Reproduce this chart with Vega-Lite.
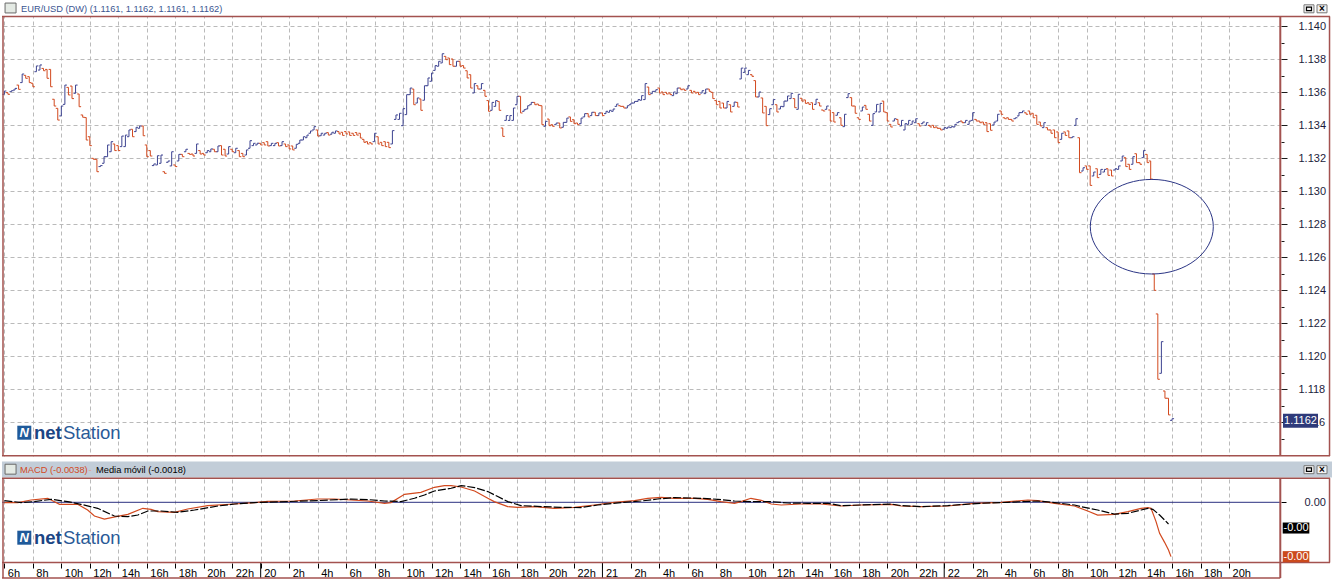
{
"$schema":"https://vega.github.io/schema/vega-lite/v6.json",
"background":"white",
"padding":{"left":1,"top":0,"right":0,"bottom":0},
"spacing":2,
"bounds":"flush",
"config":{"view":{"stroke":null},"font":"Liberation Sans","axis":{"titleOpacity":0,"labelOverlap":false}},
"datasets":{
"bars":[{"i":0,"o":1.13586,"c":1.13606},{"i":1,"o":1.13596,"c":1.13586},{"i":2,"o":1.13602,"c":1.13608},{"i":3,"o":1.13612,"c":1.13622},{"i":4,"o":1.13642,"c":1.13616},{"i":5,"o":1.13657,"c":1.13709},{"i":6,"o":1.13701,"c":1.13683},{"i":7,"o":1.13693,"c":1.13657},{"i":8,"o":1.13653,"c":1.13632},{"i":9,"o":1.13723,"c":1.13758},{"i":10,"o":1.13733,"c":1.13764},{"i":11,"o":1.13743,"c":1.13729},{"i":12,"o":1.13737,"c":1.13683},{"i":13,"o":1.13737,"c":1.13632},{"i":14,"o":1.13556,"c":1.13515},{"i":15,"o":1.13501,"c":1.1343},{"i":16,"o":1.13455,"c":1.13515},{"i":17,"o":1.13525,"c":1.13642},{"i":18,"o":1.13628,"c":1.13582},{"i":19,"o":1.13636,"c":1.1356},{"i":20,"o":1.13592,"c":1.13642},{"i":21,"o":1.13588,"c":1.13511},{"i":22,"o":1.13461,"c":1.13447},{"i":23,"o":1.13445,"c":1.13309},{"i":24,"o":1.13329,"c":1.13275},{"i":25,"o":1.13198,"c":1.13192},{"i":26,"o":1.13192,"c":1.13117},{"i":27,"o":1.13148,"c":1.13154},{"i":28,"o":1.13168,"c":1.13208},{"i":29,"o":1.13208,"c":1.13279},{"i":30,"o":1.13238,"c":1.13299},{"i":31,"o":1.13285,"c":1.13245},{"i":32,"o":1.13275,"c":1.13245},{"i":33,"o":1.13269,"c":1.13333},{"i":34,"o":1.13269,"c":1.13339},{"i":35,"o":1.13329,"c":1.1337},{"i":36,"o":1.13374,"c":1.13329},{"i":37,"o":1.1336,"c":1.13386},{"i":38,"o":1.1338,"c":1.13394},{"i":39,"o":1.13394,"c":1.13335},{"i":40,"o":1.13279,"c":1.13208},{"i":41,"o":1.13245,"c":1.13212},{"i":42,"o":1.13154,"c":1.13164},{"i":43,"o":1.13158,"c":1.13214},{"i":44,"o":1.13168,"c":1.13218},{"i":45,"o":1.13117,"c":1.13107},{"i":46,"o":1.13174,"c":1.13182},{"i":47,"o":1.13152,"c":1.13238},{"i":48,"o":1.13158,"c":1.13148},{"i":49,"o":1.13182,"c":1.13222},{"i":50,"o":1.13222,"c":1.13208},{"i":51,"o":1.13238,"c":1.13253},{"i":52,"o":1.13228,"c":1.13222},{"i":53,"o":1.13224,"c":1.13212},{"i":54,"o":1.13228,"c":1.13285},{"i":55,"o":1.13245,"c":1.13224},{"i":56,"o":1.13228,"c":1.13218},{"i":57,"o":1.13232,"c":1.13245},{"i":58,"o":1.13238,"c":1.13255},{"i":59,"o":1.13253,"c":1.13238},{"i":60,"o":1.13238,"c":1.13273},{"i":61,"o":1.13275,"c":1.13218},{"i":62,"o":1.13253,"c":1.13212},{"i":63,"o":1.13224,"c":1.13269},{"i":64,"o":1.13253,"c":1.13238},{"i":65,"o":1.13232,"c":1.13259},{"i":66,"o":1.13245,"c":1.13208},{"i":67,"o":1.13228,"c":1.13208},{"i":68,"o":1.13218,"c":1.13249},{"i":69,"o":1.13259,"c":1.13305},{"i":70,"o":1.13275,"c":1.13289},{"i":71,"o":1.13279,"c":1.13289},{"i":72,"o":1.13289,"c":1.13279},{"i":73,"o":1.13293,"c":1.13279},{"i":74,"o":1.13299,"c":1.13273},{"i":75,"o":1.13275,"c":1.13289},{"i":76,"o":1.13275,"c":1.13289},{"i":77,"o":1.13293,"c":1.13273},{"i":78,"o":1.13275,"c":1.13299},{"i":79,"o":1.13285,"c":1.13269},{"i":80,"o":1.13279,"c":1.13255},{"i":81,"o":1.13273,"c":1.13249},{"i":82,"o":1.13259,"c":1.13283},{"i":83,"o":1.13289,"c":1.13309},{"i":84,"o":1.13309,"c":1.13329},{"i":85,"o":1.13323,"c":1.13339},{"i":86,"o":1.1335,"c":1.13364},{"i":87,"o":1.1337,"c":1.1339},{"i":88,"o":1.1337,"c":1.13333},{"i":89,"o":1.13335,"c":1.1335},{"i":90,"o":1.13339,"c":1.1335},{"i":91,"o":1.13354,"c":1.13339},{"i":92,"o":1.13344,"c":1.13356},{"i":93,"o":1.1335,"c":1.13364},{"i":94,"o":1.1336,"c":1.13346},{"i":95,"o":1.13356,"c":1.13337},{"i":96,"o":1.1336,"c":1.13346},{"i":97,"o":1.13358,"c":1.13337},{"i":98,"o":1.1335,"c":1.13337},{"i":99,"o":1.13354,"c":1.13339},{"i":100,"o":1.1335,"c":1.13321},{"i":101,"o":1.13313,"c":1.13295},{"i":102,"o":1.13299,"c":1.13285},{"i":103,"o":1.13293,"c":1.13285},{"i":104,"o":1.13299,"c":1.1335},{"i":105,"o":1.13329,"c":1.13285},{"i":106,"o":1.13295,"c":1.13275},{"i":107,"o":1.13299,"c":1.13269},{"i":108,"o":1.13295,"c":1.13263},{"i":109,"o":1.13285,"c":1.13366},{"i":110,"o":1.13434,"c":1.13461},{"i":111,"o":1.13434,"c":1.13471},{"i":112,"o":1.13396,"c":1.13499},{"i":113,"o":1.13463,"c":1.13584},{"i":114,"o":1.13584,"c":1.13624},{"i":115,"o":1.13618,"c":1.13523},{"i":116,"o":1.13533,"c":1.13564},{"i":117,"o":1.13558,"c":1.13489},{"i":118,"o":1.1355,"c":1.13638},{"i":119,"o":1.13638,"c":1.13685},{"i":120,"o":1.13665,"c":1.13715},{"i":121,"o":1.13731,"c":1.1376},{"i":122,"o":1.13756,"c":1.13786},{"i":123,"o":1.13776,"c":1.13832},{"i":124,"o":1.13816,"c":1.13796},{"i":125,"o":1.13806,"c":1.13766},{"i":126,"o":1.138,"c":1.13756},{"i":127,"o":1.13756,"c":1.13786},{"i":128,"o":1.13786,"c":1.13756},{"i":129,"o":1.1376,"c":1.13745},{"i":130,"o":1.13729,"c":1.13685},{"i":131,"o":1.13705,"c":1.13624},{"i":132,"o":1.13594,"c":1.13651},{"i":133,"o":1.13638,"c":1.13618},{"i":134,"o":1.13618,"c":1.13651},{"i":135,"o":1.1361,"c":1.13574},{"i":136,"o":1.13548,"c":1.13483},{"i":137,"o":1.13489,"c":1.13537},{"i":138,"o":1.13513,"c":1.13548},{"i":139,"o":1.13543,"c":1.13489},{"i":140,"o":1.13382,"c":1.13331},{"i":141,"o":1.13428,"c":1.13457},{"i":142,"o":1.13428,"c":1.13457},{"i":143,"o":1.13428,"c":1.13503},{"i":144,"o":1.13523,"c":1.13574},{"i":145,"o":1.13574,"c":1.13473},{"i":146,"o":1.13483,"c":1.13493},{"i":147,"o":1.13497,"c":1.13517},{"i":148,"o":1.13523,"c":1.13537},{"i":149,"o":1.13537,"c":1.13523},{"i":150,"o":1.13527,"c":1.13519},{"i":151,"o":1.13517,"c":1.13402},{"i":152,"o":1.13392,"c":1.13422},{"i":153,"o":1.13436,"c":1.13396},{"i":154,"o":1.13402,"c":1.13392},{"i":155,"o":1.13402,"c":1.13412},{"i":156,"o":1.13412,"c":1.13382},{"i":157,"o":1.13386,"c":1.13416},{"i":158,"o":1.13416,"c":1.13442},{"i":159,"o":1.13449,"c":1.13422},{"i":160,"o":1.13432,"c":1.13408},{"i":161,"o":1.13412,"c":1.13402},{"i":162,"o":1.13408,"c":1.13442},{"i":163,"o":1.13449,"c":1.13469},{"i":164,"o":1.13469,"c":1.13449},{"i":165,"o":1.13457,"c":1.13477},{"i":166,"o":1.13477,"c":1.13457},{"i":167,"o":1.13457,"c":1.13473},{"i":168,"o":1.13473,"c":1.13457},{"i":169,"o":1.13469,"c":1.13483},{"i":170,"o":1.13477,"c":1.13489},{"i":171,"o":1.13483,"c":1.13497},{"i":172,"o":1.13513,"c":1.13527},{"i":173,"o":1.13517,"c":1.13513},{"i":174,"o":1.13513,"c":1.13503},{"i":175,"o":1.13503,"c":1.13517},{"i":176,"o":1.13523,"c":1.13533},{"i":177,"o":1.13533,"c":1.13543},{"i":178,"o":1.13543,"c":1.13554},{"i":179,"o":1.1355,"c":1.13578},{"i":180,"o":1.13554,"c":1.13651},{"i":181,"o":1.1363,"c":1.13584},{"i":182,"o":1.1359,"c":1.13604},{"i":183,"o":1.13604,"c":1.13614},{"i":184,"o":1.13624,"c":1.13594},{"i":185,"o":1.136,"c":1.13584},{"i":186,"o":1.13598,"c":1.13588},{"i":187,"o":1.13594,"c":1.13584},{"i":188,"o":1.13578,"c":1.136},{"i":189,"o":1.1359,"c":1.13624},{"i":190,"o":1.13624,"c":1.13614},{"i":191,"o":1.13618,"c":1.1361},{"i":192,"o":1.13618,"c":1.13638},{"i":193,"o":1.1361,"c":1.13594},{"i":194,"o":1.13604,"c":1.13594},{"i":195,"o":1.13598,"c":1.13584},{"i":196,"o":1.13594,"c":1.13608},{"i":197,"o":1.1359,"c":1.13618},{"i":198,"o":1.13618,"c":1.13604},{"i":199,"o":1.13598,"c":1.1356},{"i":200,"o":1.13548,"c":1.13523},{"i":201,"o":1.13543,"c":1.13503},{"i":202,"o":1.13533,"c":1.13503},{"i":203,"o":1.13503,"c":1.13543},{"i":204,"o":1.13523,"c":1.13479},{"i":205,"o":1.13513,"c":1.13539},{"i":206,"o":1.13537,"c":1.13509},{"i":207,"o":1.13679,"c":1.13745},{"i":208,"o":1.13719,"c":1.13745},{"i":209,"o":1.13705,"c":1.13731},{"i":210,"o":1.13705,"c":1.13695},{"i":211,"o":1.13669,"c":1.1357},{"i":212,"o":1.1357,"c":1.136},{"i":213,"o":1.13564,"c":1.13473},{"i":214,"o":1.13513,"c":1.13396},{"i":215,"o":1.13463,"c":1.13499},{"i":216,"o":1.13523,"c":1.13554},{"i":217,"o":1.13523,"c":1.13479},{"i":218,"o":1.13497,"c":1.13513},{"i":219,"o":1.13511,"c":1.13545},{"i":220,"o":1.13545,"c":1.13576},{"i":221,"o":1.1356,"c":1.13592},{"i":222,"o":1.1356,"c":1.13505},{"i":223,"o":1.13495,"c":1.13586},{"i":224,"o":1.13562,"c":1.13545},{"i":225,"o":1.13552,"c":1.13531},{"i":226,"o":1.13535,"c":1.13525},{"i":227,"o":1.13535,"c":1.13495},{"i":228,"o":1.13525,"c":1.13556},{"i":229,"o":1.13535,"c":1.13515},{"i":230,"o":1.13491,"c":1.13485},{"i":231,"o":1.13495,"c":1.13515},{"i":232,"o":1.13491,"c":1.13424},{"i":233,"o":1.13475,"c":1.13418},{"i":234,"o":1.13459,"c":1.13475},{"i":235,"o":1.13444,"c":1.13398},{"i":236,"o":1.1339,"c":1.13465},{"i":237,"o":1.13566,"c":1.1359},{"i":238,"o":1.13566,"c":1.13515},{"i":239,"o":1.13515,"c":1.13471},{"i":240,"o":1.13444,"c":1.13434},{"i":241,"o":1.13485,"c":1.13509},{"i":242,"o":1.13519,"c":1.13495},{"i":243,"o":1.13465,"c":1.13424},{"i":244,"o":1.13398,"c":1.13469},{"i":245,"o":1.13479,"c":1.13525},{"i":246,"o":1.13479,"c":1.13531},{"i":247,"o":1.13545,"c":1.13479},{"i":248,"o":1.13475,"c":1.13424},{"i":249,"o":1.13404,"c":1.13388},{"i":250,"o":1.13424,"c":1.13438},{"i":251,"o":1.13434,"c":1.13404},{"i":252,"o":1.13394,"c":1.13428},{"i":253,"o":1.1337,"c":1.13408},{"i":254,"o":1.13404,"c":1.13428},{"i":255,"o":1.13404,"c":1.13424},{"i":256,"o":1.13414,"c":1.13438},{"i":257,"o":1.13408,"c":1.13394},{"i":258,"o":1.13408,"c":1.13418},{"i":259,"o":1.13398,"c":1.13414},{"i":260,"o":1.13398,"c":1.13388},{"i":261,"o":1.13398,"c":1.13384},{"i":262,"o":1.13388,"c":1.1338},{"i":263,"o":1.1338,"c":1.1337},{"i":264,"o":1.13374,"c":1.13384},{"i":265,"o":1.1338,"c":1.13388},{"i":266,"o":1.13384,"c":1.1339},{"i":267,"o":1.13388,"c":1.13404},{"i":268,"o":1.13414,"c":1.1342},{"i":269,"o":1.13424,"c":1.13414},{"i":270,"o":1.13414,"c":1.13428},{"i":271,"o":1.13404,"c":1.13424},{"i":272,"o":1.13428,"c":1.13475},{"i":273,"o":1.13434,"c":1.13424},{"i":274,"o":1.13424,"c":1.13414},{"i":275,"o":1.13418,"c":1.13404},{"i":276,"o":1.13414,"c":1.1336},{"i":277,"o":1.13408,"c":1.13368},{"i":278,"o":1.134,"c":1.13418},{"i":279,"o":1.13424,"c":1.13465},{"i":280,"o":1.13485,"c":1.13465},{"i":281,"o":1.13444,"c":1.13438},{"i":282,"o":1.13444,"c":1.13434},{"i":283,"o":1.13434,"c":1.13424},{"i":284,"o":1.13438,"c":1.13444},{"i":285,"o":1.13455,"c":1.13475},{"i":286,"o":1.13475,"c":1.13485},{"i":287,"o":1.13475,"c":1.13465},{"i":288,"o":1.13485,"c":1.13465},{"i":289,"o":1.13471,"c":1.13444},{"i":290,"o":1.13459,"c":1.13404},{"i":291,"o":1.13418,"c":1.13394},{"i":292,"o":1.13384,"c":1.13414},{"i":293,"o":1.13384,"c":1.1337},{"i":294,"o":1.1337,"c":1.1335},{"i":295,"o":1.1337,"c":1.13323},{"i":296,"o":1.13358,"c":1.13293},{"i":297,"o":1.13313,"c":1.1335},{"i":298,"o":1.13358,"c":1.13337},{"i":299,"o":1.13364,"c":1.13323},{"i":300,"o":1.13323,"c":1.13329},{"i":301,"o":1.13398,"c":1.13438},{"i":302,"o":1.13323,"c":1.13111},{"i":303,"o":1.13121,"c":1.13141},{"i":304,"o":1.13152,"c":1.13131},{"i":305,"o":1.13152,"c":1.13034},{"i":306,"o":1.13091,"c":1.13115},{"i":307,"o":1.13135,"c":1.13081},{"i":308,"o":1.13101,"c":1.13131},{"i":309,"o":1.13115,"c":1.13131},{"i":310,"o":1.13135,"c":1.13095},{"i":311,"o":1.13127,"c":1.13091},{"i":312,"o":1.13127,"c":1.13135},{"i":313,"o":1.13131,"c":1.13152},{"i":314,"o":1.13182,"c":1.13212},{"i":315,"o":1.13202,"c":1.13148},{"i":316,"o":1.13162,"c":1.13131},{"i":317,"o":1.13162,"c":1.13208},{"i":318,"o":1.13226,"c":1.13172},{"i":319,"o":1.13172,"c":1.13162},{"i":320,"o":1.13202,"c":1.13246},{"i":321,"o":1.13222,"c":1.13172},{"i":322,"o":1.13182,"c":1.13072},{"i":323,"o":1.12497,"c":1.12398},{"i":324,"o":1.12255,"c":1.11859},{"i":325,"o":1.11895,"c":1.12087},{"i":326,"o":1.11788,"c":1.11744},{"i":327,"o":1.11744,"c":1.11643},{"i":328,"o":1.1161,"c":1.1162}],
"macd":[{"i":0,"v":-0.00002},{"i":3.8,"v":-0.00002},{"i":7.5,"v":0.00016},{"i":12.2,"v":0.00028},{"i":15.5,"v":-0.00014},{"i":20.6,"v":-0.00014},{"i":23.4,"v":-0.00054},{"i":25.3,"v":-0.00096},{"i":28.1,"v":-0.00117},{"i":31.4,"v":-0.001},{"i":34.7,"v":-0.00084},{"i":38.9,"v":-0.00042},{"i":41.2,"v":-0.00049},{"i":43.1,"v":-0.00065},{"i":47.8,"v":-0.0007},{"i":51.5,"v":-0.00047},{"i":57.1,"v":-0.00023},{"i":64.6,"v":-0.00012},{"i":70.2,"v":-0.00002},{"i":74,"v":0.00007},{"i":81.5,"v":0.00009},{"i":88,"v":0.00023},{"i":92.7,"v":0.00023},{"i":97.4,"v":0.00016},{"i":102.1,"v":0.00009},{"i":106.8,"v":-0.00007},{"i":108.6,"v":-0.00002},{"i":112.4,"v":0.00056},{"i":117,"v":0.0007},{"i":120.8,"v":0.00105},{"i":123.6,"v":0.00117},{"i":125.5,"v":0.00117},{"i":128.3,"v":0.00107},{"i":132.1,"v":0.00079},{"i":135.8,"v":0.00028},{"i":137.6,"v":0.00005},{"i":141.4,"v":-0.0003},{"i":144.2,"v":-0.00035},{"i":148.9,"v":-0.0003},{"i":154.5,"v":-0.00042},{"i":160.1,"v":-0.00035},{"i":165.7,"v":-0.00019},{"i":171.3,"v":0},{"i":177,"v":0.00012},{"i":180.7,"v":0.00028},{"i":184.5,"v":0.00035},{"i":188.3,"v":0.00028},{"i":193.9,"v":0.00028},{"i":197.6,"v":0.00021},{"i":201.3,"v":0.00005},{"i":205.1,"v":-0.00007},{"i":206.9,"v":0.00005},{"i":209.7,"v":0.00028},{"i":212.6,"v":0.00014},{"i":215.4,"v":-0.00012},{"i":218.2,"v":-0.00019},{"i":223.8,"v":-0.00012},{"i":229.4,"v":-0.00012},{"i":235,"v":-0.00026},{"i":240.6,"v":-0.00019},{"i":249.1,"v":-0.00014},{"i":251.9,"v":-0.00026},{"i":257.5,"v":-0.0003},{"i":265,"v":-0.00026},{"i":272.4,"v":-0.00007},{"i":280,"v":0},{"i":287.5,"v":0.00016},{"i":290.3,"v":0.00012},{"i":295,"v":-0.00007},{"i":300.6,"v":-0.00026},{"i":304.3,"v":-0.00061},{"i":307.1,"v":-0.00089},{"i":311.8,"v":-0.00084},{"i":315.6,"v":-0.00065},{"i":319.3,"v":-0.00042},{"i":321.2,"v":-0.00037},{"i":322.1,"v":-0.00042},{"i":323.5,"v":-0.00135},{"i":324.5,"v":-0.00217},{"i":325.9,"v":-0.0028},{"i":327,"v":-0.00333},{"i":327.7,"v":-0.0038}],
"sig":[{"i":0,"v":0.00012},{"i":4.7,"v":-0.00002},{"i":8.4,"v":0.00005},{"i":13.1,"v":0.00021},{"i":17.8,"v":0.00005},{"i":21.5,"v":-0.00014},{"i":26.2,"v":-0.00042},{"i":30.9,"v":-0.00096},{"i":34.7,"v":-0.001},{"i":37.5,"v":-0.00089},{"i":40.3,"v":-0.00061},{"i":44,"v":-0.00061},{"i":48.7,"v":-0.0007},{"i":53.4,"v":-0.00054},{"i":60,"v":-0.00026},{"i":64.6,"v":-0.00012},{"i":70.2,"v":-0.00002},{"i":79.6,"v":0.00005},{"i":88,"v":0.00012},{"i":97.4,"v":0.00023},{"i":102.1,"v":0.00019},{"i":106.8,"v":0.00009},{"i":111.4,"v":0.00005},{"i":115.2,"v":0.00028},{"i":118,"v":0.00051},{"i":120.8,"v":0.00079},{"i":125.5,"v":0.00098},{"i":128.3,"v":0.00117},{"i":132.1,"v":0.00103},{"i":135.8,"v":0.00075},{"i":138.6,"v":0.0004},{"i":141.4,"v":0.00005},{"i":145.1,"v":-0.00023},{"i":150.8,"v":-0.0003},{"i":156.4,"v":-0.00035},{"i":162,"v":-0.00037},{"i":166.7,"v":-0.00019},{"i":173.2,"v":-0.00002},{"i":178.8,"v":0.00009},{"i":183.5,"v":0.00023},{"i":188.3,"v":0.00033},{"i":195.7,"v":0.00028},{"i":200.4,"v":0.00021},{"i":205.1,"v":0.00009},{"i":209.7,"v":0.00005},{"i":215.4,"v":0.00005},{"i":220.1,"v":-0.00005},{"i":225.7,"v":-0.00007},{"i":231.3,"v":-0.00007},{"i":235,"v":-0.00023},{"i":240.6,"v":-0.00019},{"i":249.1,"v":-0.00012},{"i":251.9,"v":-0.00023},{"i":257.5,"v":-0.0003},{"i":265,"v":-0.00023},{"i":274.3,"v":-0.00007},{"i":281.8,"v":0},{"i":290.3,"v":0.00009},{"i":295,"v":-0.00002},{"i":300.6,"v":-0.00019},{"i":302.4,"v":-0.0003},{"i":307.1,"v":-0.00054},{"i":311.8,"v":-0.00082},{"i":315.6,"v":-0.00077},{"i":319.3,"v":-0.00054},{"i":321.2,"v":-0.00042},{"i":322.6,"v":-0.00049},{"i":324.5,"v":-0.00089},{"i":325.9,"v":-0.00124},{"i":327,"v":-0.00152}],
"midnight":[{"i":72},{"i":168},{"i":264}]
},
"vconcat":[
{"width":1279,"height":456,"layer":[
 {"data":{"name":"bars"},"mark":{"type":"rule","strokeWidth":1},
  "encoding":{
   "x":{"field":"i","type":"quantitative","scale":{"domain":[-0.6618,358.6],"nice":false,"zero":false},
    "axis":{"values":[0,8,16,24,32,40,48,56,64,72,80,88,96,104,112,120,128,136,144,152,160,168,176,184,192,200,208,216,224,232,240,248,256,264,272,280,288,296,304,312,320,328,336,344],"tickCount":1000,"grid":true,"gridColor":"#bababa","gridDash":[4,3],"labels":false,"ticks":false,"domain":false,"title":null}},
   "y":{"field":"o","type":"quantitative","scale":{"domain":[1.1139394,1.1415758],"nice":false,"zero":false},
    "axis":{"orient":"right","values":[1.114,1.115,1.116,1.117,1.118,1.119,1.12,1.121,1.122,1.123,1.124,1.125,1.126,1.127,1.128,1.129,1.13,1.131,1.132,1.133,1.134,1.135,1.136,1.137,1.138,1.139,1.14],"tickCount":1000,
     "labelExpr":"(round(datum.value*1000)%2==0 && datum.value>1.1145) ? format(datum.value,'.3f') : ''",
     "grid":true,"gridColor":"#bababa","gridDash":[4,3],
     "gridOpacity":{"condition":{"test":"round(datum.value*1000)%2==0","value":1},"value":0},
     "domain":false,"tickColor":"#1a1a1a",
     "tickSize":{"condition":{"test":"round(datum.value*1000)%2==0","value":6},"value":3},
     "labelPadding":11,"labelFontSize":11,"labelFont":"Liberation Sans","labelColor":"#1c1c3c","labelBaseline":"middle","labelAlign":"left","labelBound":false,"labelOverlap":false,"labelFlush":false,"title":null}},
   "y2":{"field":"c"},
   "color":{"condition":{"test":"datum.c>=datum.o","value":"#3c4290"},"value":"#d2491e"}}},
 {"data":{"name":"bars"},"mark":{"type":"tick","orient":"horizontal","size":2,"thickness":1,"xOffset":-1,"opacity":1},
  "encoding":{"x":{"field":"i","type":"quantitative"},"y":{"field":"o","type":"quantitative"},
   "color":{"condition":{"test":"datum.c>=datum.o","value":"#3c4290"},"value":"#d2491e"}}},
 {"data":{"name":"bars"},"mark":{"type":"tick","orient":"horizontal","size":2,"thickness":1,"xOffset":1,"opacity":1},
  "encoding":{"x":{"field":"i","type":"quantitative"},"y":{"field":"c","type":"quantitative"},
   "color":{"condition":{"test":"datum.c>=datum.o","value":"#3c4290"},"value":"#d2491e"}}},
 {"data":{"values":[{}]},"mark":{"type":"rect","fill":"white"},"encoding":{"x":{"datum":-0.6618},"x2":{"datum":358.6},"y":{"datum":1.1405758},"y2":{"datum":1.1415758}}},
 {"data":{"values":[{}]},"mark":{"type":"rule","color":"#a3524f","strokeWidth":1.5},"encoding":{"x":{"datum":-0.6618},"x2":{"datum":372.37},"y":{"datum":1.1405758}}},
 {"data":{"values":[{}]},"mark":{"type":"rule","color":"#a3524f","strokeWidth":1.5},"encoding":{"x":{"datum":-0.6618},"x2":{"datum":372.37},"y":{"datum":1.1139545}}},
 {"data":{"values":[{}]},"mark":{"type":"rule","color":"#a3524f","strokeWidth":1.5},"encoding":{"x":{"datum":-0.381},"y":{"datum":1.1405758},"y2":{"datum":1.1139394}}},
 {"data":{"values":[{}]},"mark":{"type":"rule","color":"#a3524f","strokeWidth":2},"encoding":{"x":{"datum":358.4},"y":{"datum":1.1405758},"y2":{"datum":1.1139394}}},
 {"data":{"values":[{}]},"mark":{"type":"rule","color":"#a3524f","strokeWidth":1.5},"encoding":{"x":{"datum":372.23},"y":{"datum":1.1405758},"y2":{"datum":1.1139394}}},
 {"data":{"values":[{}]},"mark":{"type":"text","align":"left","baseline":"middle","fontSize":9.3,"color":"#3a5591","text":"EUR/USD (DW) (1.1161, 1.1162, 1.1161, 1.1162)"},"encoding":{"x":{"datum":4.675},"y":{"datum":1.1410606}}},
 {"data":{"values":[{}]},"mark":{"type":"point","shape":"M-1,-0.9H1V0.9H-1Z","size":121,"filled":true,"fill":"#e4eae4","stroke":"#6a6a6a","strokeWidth":1,"opacity":1},"encoding":{"x":{"datum":1.74},"y":{"datum":1.1410909}}},
 {"data":{"values":[{}]},"mark":{"type":"point","shape":"M-1,-0.8H1V0.8H-1Z","size":100,"filled":true,"fill":"#f2f2f2","stroke":"#777777","strokeWidth":1,"opacity":1},"encoding":{"x":{"datum":366.46},"y":{"datum":1.1410424}}},
 {"data":{"values":[{}]},"mark":{"type":"point","shape":"M-1,-0.8H1V0.8H-1Z","size":100,"filled":true,"fill":"#f2f2f2","stroke":"#777777","strokeWidth":1,"opacity":1},"encoding":{"x":{"datum":370.12},"y":{"datum":1.1410424}}},
 {"data":{"values":[{}]},"mark":{"type":"point","shape":"M-0.5,-0.35H0.5V0.35H-0.5Z","size":100,"filled":false,"stroke":"#000000","strokeWidth":1.2,"opacity":1},"encoding":{"x":{"datum":366.46},"y":{"datum":1.1410424}}},
 {"data":{"values":[{}]},"mark":{"type":"text","align":"center","baseline":"middle","fontSize":10,"fontWeight":"bold","color":"#000000","text":"×"},"encoding":{"x":{"datum":370.12},"y":{"datum":1.1410424}}},
 {"data":{"values":[{}]},"mark":{"type":"point","shape":"M-1,-1H1V1H-1Z","size":196,"filled":true,"fill":"#1f5a9a","opacity":1},"encoding":{"x":{"datum":5.602},"y":{"datum":1.1153515}}},
 {"data":{"values":[{}]},"mark":{"type":"text","align":"center","baseline":"middle","fontSize":13,"fontWeight":"bold","fontStyle":"italic","color":"white","text":"N"},"encoding":{"x":{"datum":5.602},"y":{"datum":1.1153515}}},
 {"data":{"values":[{}]},"mark":{"type":"text","align":"left","baseline":"alphabetic","fontSize":18.5,"fontWeight":"bold","color":"#1b4584","text":"net"},"encoding":{"x":{"datum":8.327},"y":{"datum":1.1149515}}},
 {"data":{"values":[{}]},"mark":{"type":"text","align":"left","baseline":"alphabetic","fontSize":18.5,"color":"#2a5a97","text":"Station"},"encoding":{"x":{"datum":16.47},"y":{"datum":1.1149515}}},
 {"data":{"values":[{}]},"mark":{"type":"point","shape":"M-1,-0.4H1V0.4H-1Z","size":1225,"filled":true,"fill":"#2e3a7a","opacity":1,"yOffset":2},"encoding":{"x":{"datum":364.08},"y":{"datum":1.1162}}},
 {"data":{"values":[{}]},"mark":{"type":"text","align":"center","baseline":"middle","fontSize":11,"color":"white","text":"1.1162","yOffset":2},"encoding":{"x":{"datum":364.08},"y":{"datum":1.1162}}},
 {"data":{"values":[{}]},"mark":{"type":"point","shape":"M-1,0C-1,-0.4247,-0.5523,-0.769,0,-0.769C0.5523,-0.769,1,-0.4247,1,0C1,0.4247,0.5523,0.769,0,0.769C-0.5523,0.769,-1,0.4247,-1,0Z","size":15129,"filled":false,"stroke":"#2b3585","strokeWidth":1,"opacity":1},"encoding":{"x":{"datum":322.31},"y":{"datum":1.1278364}}}
]},
{"width":1279,"height":105,"layer":[
 {"data":{"values":[{}]},"mark":{"type":"rect","fill":"white"},"encoding":{"x":{"datum":-0.6618},"x2":{"datum":373.21},"y":{"datum":0.0016993},"y2":{"datum":0.0030979}}},
 {"data":{"values":[{}]},"mark":{"type":"rect","fill":"#c2cdd8"},"encoding":{"x":{"datum":-0.6618},"x2":{"datum":373.21},"y":{"datum":0.0017343},"y2":{"datum":0.0028531}}},
 {"data":{"values":[{}]},"mark":{"type":"rule","color":"#2b3080","strokeWidth":1},"encoding":{"y":{"datum":0}}},
 {"data":{"name":"macd"},"mark":{"type":"line","color":"#d2491e","strokeWidth":1.2},
  "encoding":{
   "x":{"field":"i","type":"quantitative","scale":{"domain":[-0.6618,358.6],"nice":false,"zero":false},
    "axis":{"values":[0,8,16,24,32,40,48,56,64,72,80,88,96,104,112,120,128,136,144,152,160,168,176,184,192,200,208,216,224,232,240,248,256,264,272,280,288,296,304,312,320,328,336,344],"tickCount":1000,
     "labelExpr":"(6+datum.value/4)%24==0 ? toString(19+(6+datum.value/4)/24) : ((6+datum.value/4)%24)+'h'",
     "grid":true,"gridColor":"#bababa","gridDash":[4,3],"domain":false,"tickColor":"#000000","tickSize":5,
     "labelAlign":"left","labelOffset":3,"labelBaseline":"alphabetic","labelPadding":8.5,"labelFontSize":11,"labelFont":"Liberation Sans","labelColor":"#000000","labelBound":false,"labelOverlap":false,"labelFlush":false,"title":null}},
   "y":{"field":"v","type":"quantitative","scale":{"domain":[-0.0042448,0.0030979],"nice":false,"zero":false},
    "axis":{"orient":"right","values":[0],"labelExpr":"'0.00'","grid":false,"domain":false,"tickColor":"#000000","tickSize":5,"labelPadding":18,"labelFontSize":11,"labelFont":"Liberation Sans","labelColor":"#1c1c3c","labelBaseline":"middle","labelAlign":"left","labelOverlap":false,"title":null}}}},
 {"data":{"name":"sig"},"mark":{"type":"line","color":"#000000","strokeWidth":1.2,"strokeDash":[8,2]},"encoding":{"x":{"field":"i","type":"quantitative"},"y":{"field":"v","type":"quantitative"}}},
 {"data":{"name":"midnight"},"mark":{"type":"rule","color":"#000000","strokeWidth":1},"encoding":{"x":{"field":"i","type":"quantitative"},"y":{"datum":-0.0042448},"y2":{"datum":-0.0052937}}},
 {"data":{"values":[{}]},"mark":{"type":"rule","color":"#a3524f","strokeWidth":1.5},"encoding":{"x":{"datum":-0.6618},"x2":{"datum":372.37},"y":{"datum":0.0016853}}},
 {"data":{"values":[{}]},"mark":{"type":"rule","color":"#a3524f","strokeWidth":1.5},"encoding":{"x":{"datum":-0.6618},"x2":{"datum":372.37},"y":{"datum":-0.0042098}}},
 {"data":{"values":[{}]},"mark":{"type":"rule","color":"#a3524f","strokeWidth":1.5},"encoding":{"x":{"datum":-0.6618},"x2":{"datum":358.4},"y":{"datum":-0.0052937}}},
 {"data":{"values":[{}]},"mark":{"type":"rule","color":"#a3524f","strokeWidth":1.5},"encoding":{"x":{"datum":-0.381},"y":{"datum":0.0016853},"y2":{"datum":-0.0052937}}},
 {"data":{"values":[{}]},"mark":{"type":"rule","color":"#a3524f","strokeWidth":2},"encoding":{"x":{"datum":358.4},"y":{"datum":0.0016853},"y2":{"datum":-0.0052937}}},
 {"data":{"values":[{}]},"mark":{"type":"rule","color":"#a3524f","strokeWidth":1.5},"encoding":{"x":{"datum":372.23},"y":{"datum":0.0016853},"y2":{"datum":-0.0042098}}},
 {"data":{"values":[{}]},"mark":{"type":"text","align":"left","baseline":"middle","fontSize":9.3,"color":"#d2491e","text":"MACD (-0.0038)"},"encoding":{"x":{"datum":4.394},"y":{"datum":0.0022937}}},
 {"data":{"values":[{}]},"mark":{"type":"text","align":"center","baseline":"middle","fontSize":9.3,"color":"#e0a090","text":"-"},"encoding":{"x":{"datum":24.1},"y":{"datum":0.0022937}}},
 {"data":{"values":[{}]},"mark":{"type":"text","align":"left","baseline":"middle","fontSize":9.3,"color":"#000000","text":"Media móvil (-0.0018)"},"encoding":{"x":{"datum":25.74},"y":{"datum":0.0022937}}},
 {"data":{"values":[{}]},"mark":{"type":"point","shape":"M-1,-0.9H1V0.9H-1Z","size":121,"filled":true,"fill":"#e4eae4","stroke":"#6a6a6a","strokeWidth":1,"opacity":1},"encoding":{"x":{"datum":1.74},"y":{"datum":0.0023147}}},
 {"data":{"values":[{}]},"mark":{"type":"point","shape":"M-1,-0.8H1V0.8H-1Z","size":100,"filled":true,"fill":"#f2f2f2","stroke":"#777777","strokeWidth":1,"opacity":1},"encoding":{"x":{"datum":366.46},"y":{"datum":0.0022797}}},
 {"data":{"values":[{}]},"mark":{"type":"point","shape":"M-1,-0.8H1V0.8H-1Z","size":100,"filled":true,"fill":"#f2f2f2","stroke":"#777777","strokeWidth":1,"opacity":1},"encoding":{"x":{"datum":370.12},"y":{"datum":0.0022797}}},
 {"data":{"values":[{}]},"mark":{"type":"point","shape":"M-0.5,-0.35H0.5V0.35H-0.5Z","size":100,"filled":false,"stroke":"#000000","strokeWidth":1.2,"opacity":1},"encoding":{"x":{"datum":366.46},"y":{"datum":0.0022797}}},
 {"data":{"values":[{}]},"mark":{"type":"text","align":"center","baseline":"middle","fontSize":10,"fontWeight":"bold","color":"#000000","text":"×"},"encoding":{"x":{"datum":370.12},"y":{"datum":0.0022797}}},
 {"data":{"values":[{}]},"mark":{"type":"point","shape":"M-1,-1H1V1H-1Z","size":196,"filled":true,"fill":"#1f5a9a","opacity":1},"encoding":{"x":{"datum":5.602},"y":{"datum":-0.0024755}}},
 {"data":{"values":[{}]},"mark":{"type":"text","align":"center","baseline":"middle","fontSize":13,"fontWeight":"bold","fontStyle":"italic","color":"white","text":"N"},"encoding":{"x":{"datum":5.602},"y":{"datum":-0.0024755}}},
 {"data":{"values":[{}]},"mark":{"type":"text","align":"left","baseline":"alphabetic","fontSize":18.5,"fontWeight":"bold","color":"#1b4584","text":"net"},"encoding":{"x":{"datum":8.327},"y":{"datum":-0.0029371}}},
 {"data":{"values":[{}]},"mark":{"type":"text","align":"left","baseline":"alphabetic","fontSize":18.5,"color":"#2a5a97","text":"Station"},"encoding":{"x":{"datum":16.47},"y":{"datum":-0.0029371}}},
 {"data":{"values":[{}]},"mark":{"type":"point","shape":"M-1,-0.414H1V0.414H-1Z","size":708,"filled":true,"fill":"#000000","opacity":1},"encoding":{"x":{"datum":362.82},"y":{"datum":-0.0018}}},
 {"data":{"values":[{}]},"mark":{"type":"text","align":"center","baseline":"middle","fontSize":11,"color":"white","text":"-0.00"},"encoding":{"x":{"datum":362.82},"y":{"datum":-0.0018}}},
 {"data":{"values":[{}]},"mark":{"type":"point","shape":"M-1,-0.414H1V0.414H-1Z","size":708,"filled":true,"fill":"#cc4a1c","opacity":1},"encoding":{"x":{"datum":362.82},"y":{"datum":-0.0038}}},
 {"data":{"values":[{}]},"mark":{"type":"text","align":"center","baseline":"middle","fontSize":11,"color":"white","text":"-0.00"},"encoding":{"x":{"datum":362.82},"y":{"datum":-0.0038}}}
]}
]
}
